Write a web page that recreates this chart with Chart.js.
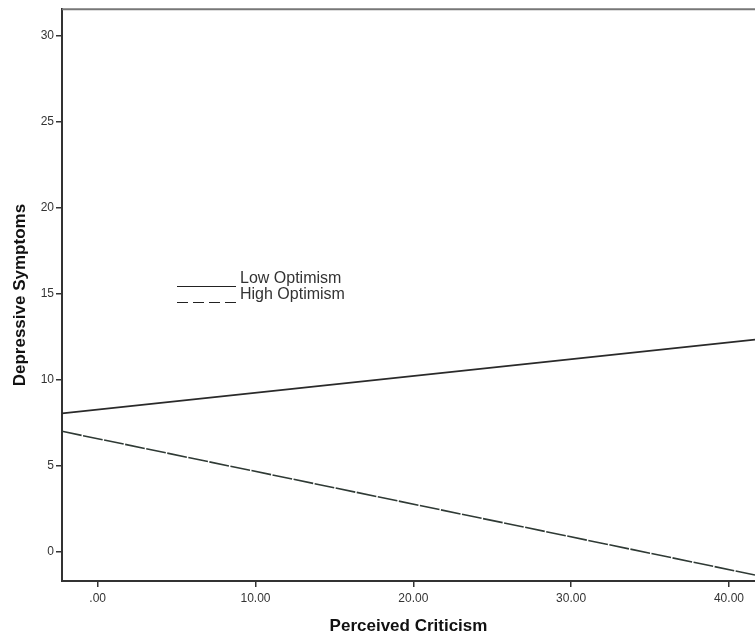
<!DOCTYPE html>
<html>
<head>
<meta charset="utf-8">
<script src="https://cdn.jsdelivr.net/npm/chart.js@4.4.0/dist/chart.umd.min.js"></script>
<style>
  html, body { margin: 0; padding: 0; background: #fff; }
  #wrap { width: 755px; height: 641px; }
</style>
</head>
<body>
<div id="wrap"><canvas id="chart" width="755" height="641"></canvas></div>
<script>
// values
const xRange = [-2.26, 41.65]
const lowOptimism = [8.06, 12.35]
const highOptimism = [7.02, -1.33]
const xTicks = [0, 10, 20, 30, 40]
const yTicks = [0, 5, 10, 15, 20, 25, 30]
const seriesNames = ['Low Optimism', 'High Optimism']

const ink = '#333333'
const font = 'Liberation Sans, Arial, sans-serif'

const toPoints = vals => vals.map((v, i) => ({ x: xRange[i], y: v }))

const frame = {
    id: 'frame',
    afterDraw(chart) {
        const { ctx, chartArea } = chart
        ctx.save()
        // top border
        ctx.strokeStyle = '#777'
        ctx.lineWidth = 2
        ctx.beginPath()
        ctx.moveTo(chartArea.left, chartArea.top)
        ctx.lineTo(chartArea.right, chartArea.top)
        ctx.stroke()

        // legend in the plot
        const x0 = 177, x1 = 236
        const rows = [286.5, 302.5]
        ctx.font = '16px ' + font
        ctx.fillStyle = ink
        ctx.textBaseline = 'alphabetic'
        rows.forEach((y, i) => {
            ctx.strokeStyle = '#222'
            ctx.lineWidth = 1
            ctx.setLineDash(i === 0 ? [] : [11, 5])
            ctx.beginPath()
            ctx.moveTo(x0, y)
            ctx.lineTo(x1, y)
            ctx.stroke()
            ctx.setLineDash([])
            ctx.fillText(seriesNames[i], 240, Math.floor(y) - 3)
        })
        ctx.restore()
    }
}

new Chart(document.getElementById('chart'), {
    type: 'line',
    data: {
        datasets: [{
            label: seriesNames[0],
            data: toPoints(lowOptimism),
            borderColor: '#2a2a2a',
            borderWidth: 1.6,
            pointRadius: 0
        }, {
            label: seriesNames[1],
            data: toPoints(highOptimism),
            borderColor: '#2f3a35',
            borderWidth: 1.6,
            borderDash: [20, 1.5],
            pointRadius: 0
        }]
    },
    options: {
        responsive: false,
        animation: false,
        layout: { padding: { top: 8, right: 0, left: 0, bottom: 0 } },
        plugins: {
            legend: { display: false },
            tooltip: { enabled: false }
        },
        scales: {
            x: {
                type: 'linear',
                min: xRange[0],
                max: xRange[1],
                afterBuildTicks: s => { s.ticks = xTicks.map(v => ({ value: v })) },
                afterFit: s => { s.height = 60 },
                grid: { drawOnChartArea: false, tickLength: 6, color: ink, lineWidth: 1.5 },
                border: { color: ink, width: 2 },
                ticks: {
                    color: ink,
                    padding: 4,
                    maxRotation: 0,
                    font: { family: font, size: 12 },
                    callback: v => v === 0 ? '.00' : v.toFixed(2)
                },
                title: {
                    display: true,
                    text: 'Perceived Criticism',
                    color: '#111',
                    font: { family: font, size: 17, weight: 'bold' },
                    padding: { top: 4 }
                }
            },
            y: {
                min: -1.68,
                max: 31.55,
                afterBuildTicks: s => { s.ticks = yTicks.map(v => ({ value: v })) },
                afterFit: s => { s.width = 62 },
                grid: { drawOnChartArea: false, tickLength: 6, color: ink, lineWidth: 1.5 },
                border: { color: ink, width: 2 },
                ticks: {
                    color: ink,
                    padding: 2,
                    font: { family: font, size: 12 }
                },
                title: {
                    display: true,
                    text: 'Depressive Symptoms',
                    color: '#111',
                    font: { family: font, size: 17, weight: 'bold' },
                    padding: { top: 10, bottom: 2 }
                }
            }
        }
    },
    plugins: [frame]
})
</script>
</body>
</html>
